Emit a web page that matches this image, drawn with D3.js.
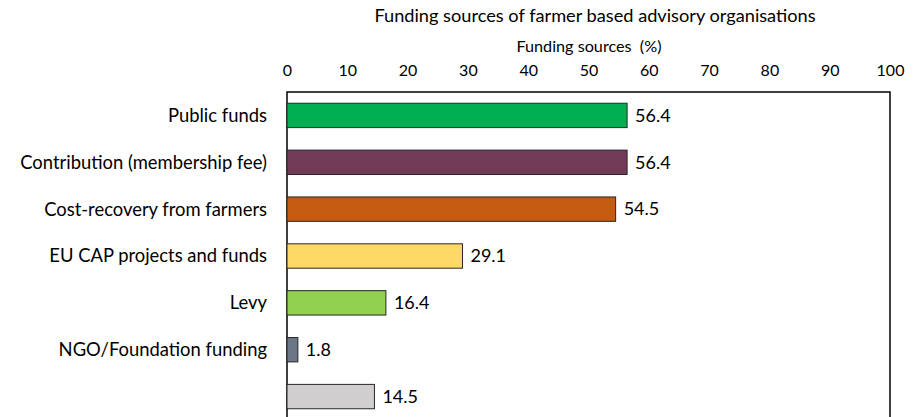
<!DOCTYPE html>
<html>
<head>
<meta charset="utf-8">
<script src="https://cdn.jsdelivr.net/npm/d3@7/dist/d3.min.js"></script>
<style>
  html, body { margin: 0; padding: 0; background: #fff; }
  svg { display: block; font-family: Lato, "Open Sans", sans-serif; }
</style>
</head>
<body>
<svg id="chart" width="920" height="417"></svg>
<script>
// Funding sources of farmer based advisory organisations (% of organisations)
const categories = [
  "Public funds",
  "Contribution (membership fee)",
  "Cost-recovery from farmers",
  "EU CAP projects and funds",
  "Levy",
  "NGO/Foundation funding",
  ""
];
const values = [56.4, 56.4, 54.5, 29.1, 16.4, 1.8, 14.5];
const barColors = ["#00B050", "#713B57", "#C55A11", "#FFD966", "#92D050", "#6B7787", "#D0CECE"];
const xTicks = [0, 10, 20, 30, 40, 50, 60, 70, 80, 90, 100];
const chartTitle = "Funding sources of farmer based advisory organisations";
const axisTitle = "Funding sources  (%)";

const svg = d3.select("#chart");
const plot = { left: 287, right: 890, top: 92, bottom: 420 };

const x = d3.scaleLinear().domain([0, 100]).range([plot.left, plot.right]);
const y = d3.scaleBand().domain(categories.map((c, i) => i))
  .range([plot.top, plot.bottom]).paddingInner(0.48).paddingOuter(0.24);

// Titles
svg.append("text")
  .attr("x", 595).attr("y", 22)
  .attr("text-anchor", "middle")
  .attr("font-size", 18.2).attr("fill", "#000")
  .text(chartTitle);

svg.append("text")
  .attr("x", 589).attr("y", 52)
  .attr("text-anchor", "middle")
  .attr("font-size", 16.2).attr("xml:space", "preserve").attr("fill", "#000")
  .text(axisTitle);

// Top value axis (labels only)
const axis = svg.append("g")
  .attr("transform", `translate(0,${plot.top - 16})`)
  .call(d3.axisTop(x).tickValues(xTicks).tickSize(0).tickPadding(0).tickFormat(d3.format("d")));
axis.select(".domain").remove();
axis.selectAll("text").attr("font-size", 16).attr("fill", "#000")
  .attr("font-family", "Lato, 'Open Sans', sans-serif");

// Plot frame
svg.append("rect")
  .attr("x", plot.left).attr("y", plot.top)
  .attr("width", plot.right - plot.left).attr("height", plot.bottom - plot.top)
  .attr("fill", "none").attr("stroke", "#000").attr("stroke-width", 1.5);

// Bars
const rows = categories.map((c, i) => ({ c, i, v: values[i], color: barColors[i] }));

svg.append("g").selectAll("rect").data(rows).join("rect")
  .attr("x", x(0))
  .attr("y", d => y(d.i))
  .attr("width", d => x(d.v) - x(0))
  .attr("height", y.bandwidth())
  .attr("fill", d => d.color)
  .attr("stroke", "#262626").attr("stroke-width", 1);

// Value labels
svg.append("g").selectAll("text").data(rows).join("text")
  .attr("x", d => x(d.v) + 8)
  .attr("y", d => y(d.i) + y.bandwidth() / 2)
  .attr("dy", "0.35em")
  .attr("font-size", 18).attr("fill", "#000")
  .text(d => d.v.toFixed(1));

// Category labels
svg.append("g").selectAll("text").data(rows).join("text")
  .attr("x", plot.left - 20)
  .attr("y", d => y(d.i) + y.bandwidth() / 2)
  .attr("dy", "0.35em")
  .attr("text-anchor", "end")
  .attr("font-size", 18.4).attr("fill", "#000")
  .text(d => d.c);
</script>
</body>
</html>
